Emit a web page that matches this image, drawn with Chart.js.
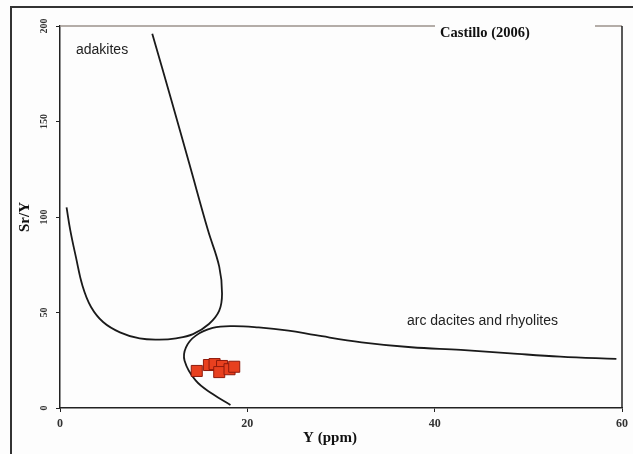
<!DOCTYPE html>
<html>
<head>
<meta charset="utf-8">
<script src="https://cdn.jsdelivr.net/npm/chart.js@4/dist/chart.umd.min.js"></script>
<style>
    html, body { margin: 0; padding: 0; background: #fdfdfd; }
    #wrap { width: 633px; height: 454px; position: relative; }
</style>
</head>
<body>
<div id="wrap"><canvas id="chart" width="633" height="454"></canvas></div>
<script>
// Sample data: Y (ppm) vs Sr/Y
const sampleY = [14.6, 15.9, 16.5, 17.3, 17.0, 18.1, 18.6];
const sampleSrY = [19.4, 22.5, 23.0, 22.0, 18.8, 20.3, 21.6];

// Adakite field boundary (Castillo 2006)
const adakiteX = [0.7, 1.1, 1.7, 2.4, 3.3, 4.6, 6.4, 8.5, 10.6, 12.4, 14.2, 15.9, 17.0, 17.3, 17.0, 15.8, 13.8, 11.9, 9.85];
const adakiteY = [105, 93, 79, 64, 53, 45, 39.6, 36.4, 35.8, 36.5, 38.7, 44, 51, 60, 74, 93, 128, 161, 196];

// Arc dacite / rhyolite field boundary
const arcX = [18.2, 16.3, 14.5, 13.3, 13.45, 14.5, 16.3, 18.4, 21.2, 24.4, 27.3, 32.2, 37.5, 42.8, 48.1, 53.4, 59.4];
const arcY = [1.6, 7.3, 14.3, 24.8, 31.8, 37.9, 41.9, 42.9, 42.2, 40.5, 38.1, 34.4, 31.8, 30.4, 28.6, 26.9, 25.7];

// Axis ticks
const xTicks = [0, 20, 40, 60];
const yTicks = [0, 50, 100, 150, 200];

const toPoints = (xs, ys) => xs.map((x, i) => ({ x: x, y: ys[i] }));

// Frame, top/right box lines and the text labels
const decorPlugin = {
    id: 'decor',
    beforeDraw(chart) {
        const ctx = chart.ctx;
        ctx.save();
        ctx.fillStyle = '#fdfdfd';
        ctx.fillRect(0, 0, chart.width, chart.height);
        ctx.strokeStyle = '#333';
        ctx.lineWidth = 2;
        ctx.beginPath();
        ctx.moveTo(11, chart.height + 5);
        ctx.lineTo(11, 7);
        ctx.lineTo(chart.width + 5, 7);
        ctx.stroke();
        ctx.restore();
    },
    afterDraw(chart) {
        const ctx = chart.ctx;
        const { left, right, top, bottom } = chart.chartArea;
        ctx.save();
        // top line with a gap for the reference
        ctx.strokeStyle = '#9c928c';
        ctx.lineWidth = 1.5;
        ctx.beginPath();
        ctx.moveTo(left, top);
        ctx.lineTo(435, top);
        ctx.moveTo(595, top);
        ctx.lineTo(right, top);
        ctx.stroke();
        // right line
        ctx.strokeStyle = '#222';
        ctx.beginPath();
        ctx.moveTo(right, top);
        ctx.lineTo(right, bottom);
        ctx.stroke();

        ctx.fillStyle = '#111';
        ctx.textBaseline = 'middle';
        ctx.textAlign = 'center';
        ctx.font = 'bold 14.5px "Liberation Serif", "Times New Roman", serif';
        ctx.fillText('Castillo (2006)', 485, 33);
        ctx.font = 'bold 15px "Liberation Serif", "Times New Roman", serif';
        ctx.fillText('Y (ppm)', 330, 438);

        ctx.textAlign = 'left';
        ctx.fillStyle = '#222';
        ctx.font = '14px "Liberation Sans", Arial, sans-serif';
        ctx.fillText('adakites', 76, 50);
        ctx.fillText('arc dacites and rhyolites', 407, 321);
        ctx.restore();
    }
};

const ctx = document.getElementById('chart').getContext('2d');

new Chart(ctx, {
    type: 'scatter',
    data: {
        datasets: [
            {
                label: 'Samples',
                data: toPoints(sampleY, sampleSrY),
                pointStyle: 'rect',
                pointRadius: 7.8,
                pointBackgroundColor: '#e8401f',
                pointBorderColor: '#8e1a0c',
                pointBorderWidth: 1
            },
            {
                label: 'Adakites',
                data: toPoints(adakiteX, adakiteY),
                showLine: true,
                tension: 0.4,
                borderColor: '#1a1a1a',
                borderWidth: 1.8,
                pointRadius: 0,
                clip: false
            },
            {
                label: 'Arc dacites and rhyolites',
                data: toPoints(arcX, arcY),
                showLine: true,
                tension: 0.4,
                borderColor: '#1a1a1a',
                borderWidth: 1.8,
                pointRadius: 0,
                clip: false
            }
        ]
    },
    options: {
        responsive: false,
        animation: false,
        events: [],
        layout: { padding: { left: 0, right: 8, top: 26, bottom: 0 } },
        plugins: {
            legend: { display: false },
            tooltip: { enabled: false }
        },
        scales: {
            x: {
                type: 'linear',
                min: 0,
                max: 60,
                afterBuildTicks: s => { s.ticks = xTicks.map(v => ({ value: v })); },
                afterFit: s => { s.height = 46; },
                grid: { drawOnChartArea: false, drawTicks: true, tickLength: 4, color: '#222' },
                border: { display: true, color: '#222', width: 1.5 },
                ticks: {
                    padding: 5,
                    color: '#333',
                    font: { family: '"Liberation Serif", "Times New Roman", serif', size: 12, weight: 'bold' }
                }
            },
            y: {
                type: 'linear',
                min: 0,
                max: 200,
                afterBuildTicks: s => { s.ticks = yTicks.map(v => ({ value: v })); },
                afterFit: s => { s.width = 60; },
                grid: { drawOnChartArea: false, drawTicks: true, tickLength: 4, color: '#222' },
                border: { display: true, color: '#222', width: 1.5 },
                ticks: {
                    minRotation: 90,
                    maxRotation: 90,
                    crossAlign: 'center',
                    padding: 4.5,
                    color: '#333',
                    font: { family: '"Liberation Serif", "Times New Roman", serif', size: 10, weight: 'bold' }
                },
                title: {
                    display: true,
                    text: 'Sr/Y',
                    color: '#111',
                    padding: { top: 16, bottom: 0 },
                    font: { family: '"Liberation Serif", "Times New Roman", serif', size: 15, weight: 'bold' }
                }
            }
        }
    },
    plugins: [decorPlugin]
});
</script>
</body>
</html>
